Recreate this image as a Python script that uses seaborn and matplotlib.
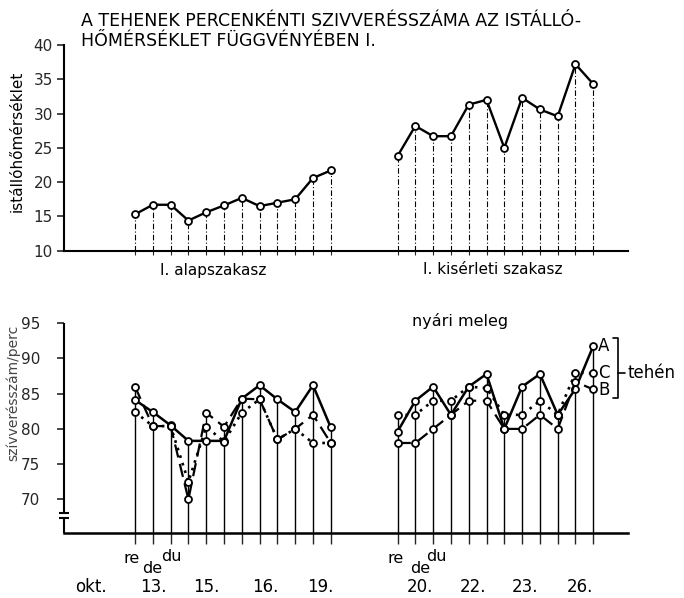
import matplotlib
matplotlib.use("Agg")
import matplotlib.pyplot as plt
import matplotlib.transforms as mtransforms
import seaborn as sns
import pandas as pd

# ---------------- data ----------------
# measurement slots: 4 days x (re, de, du) per period
x_left = [0, 1, 2, 3, 4, 5, 6, 7, 8, 9, 10, 11]
x_right = [14.75, 15.75, 16.75, 17.75, 18.75, 19.75, 20.75, 21.75, 22.75, 23.75, 24.75, 25.75]

# stable temperature (istállóhőmérséklet)
temp_left = [15.3, 16.7, 16.7, 14.4, 15.6, 16.6, 17.7, 16.5, 17.0, 17.5, 20.6, 21.7]
temp_right = [23.8, 28.2, 26.7, 26.7, 31.3, 32.0, 25.0, 32.3, 30.6, 29.6, 37.2, 34.3]

# heart rate per minute, cows A, B, C
A_left = [84.1, 82.4, 80.5, 78.3, 78.3, 78.3, 84.3, 86.2, 84.2, 82.4, 86.2, 80.2]
B_left = [86.0, 80.4, 80.4, 70.0, 82.3, 80.3, 84.3, 84.2, 78.5, 80.0, 82.0, 78.0]
C_left = [82.4, 80.4, 80.4, 72.5, 80.3, 78.2, 82.3, 84.2, 78.5, 80.0, 78.0, 78.0]
A_right = [79.6, 84.0, 86.0, 82.0, 86.0, 87.8, 80.0, 86.0, 87.8, 82.0, 85.7, 91.8]
B_right = [78.0, 78.0, 80.0, 82.0, 84.0, 84.0, 80.0, 80.0, 82.0, 80.0, 86.7, 85.6]
C_right = [82.0, 82.0, 84.0, 84.0, 86.0, 85.8, 82.0, 82.0, 84.0, 82.0, 88.0, 87.9]

temp_ticks = [10, 15, 20, 25, 30, 35, 40]
pulse_ticks = [70, 75, 80, 85, 90, 95]
slot_labels = ["re", "de", "du"]
day_labels = ["okt.", "13.", "15.", "16.", "19.", "20.", "22.", "23.", "26."]

title_lines = ["A TEHENEK PERCENKÉNTI SZIVVERÉSSZÁMA AZ ISTÁLLÓ-",
               "HŐMÉRSÉKLET FÜGGVÉNYÉBEN I."]

# ---------------- style ----------------
sns.set_style("white")
plt.rcParams["font.family"] = ["DejaVu Sans"]
plt.rcParams["text.color"] = "black"

W, H = 684, 598
fig = plt.figure(figsize=(W / 100, H / 100), dpi=100)


def fx(px):
    return px / W


def fy(py):
    return 1 - py / H


XL = (-3.99, 27.70)
ax1 = fig.add_axes([fx(64), fy(250.7), fx(628) - fx(64), (250.7 - 45) / H])
ax2 = fig.add_axes([fx(64), fy(533.3), fx(628) - fx(64), (533.3 - 323.3) / H])
for a in (ax1, ax2):
    a.set_facecolor("none")

x_all = x_left + x_right
temp_all = temp_left + temp_right

# ---------------- top panel ----------------
ax1.vlines(x_all, 10, temp_all, colors="black", linestyles=(0, (5, 2, 1, 2)),
           linewidth=0.8, zorder=1)
mk = dict(marker="o", markersize=5, markerfacecolor="white",
          markeredgecolor="black", markeredgewidth=1.3, color="black",
          estimator=None, sort=False, clip_on=False)
for xs, ys in [(x_left, temp_left), (x_right, temp_right)]:
    df = pd.DataFrame({"x": xs, "y": ys})
    sns.lineplot(data=df, x="x", y="y", ax=ax1, linewidth=1.7, zorder=3, **mk)

ax1.set_xlim(*XL)
ax1.set_ylim(10, 40)
ax1.set_yticks(temp_ticks)
ax1.set_xticks(x_all)
ax1.set_xticklabels([])
ax1.tick_params(axis="y", left=True, direction="out", length=5, width=1.2,
                labelsize=11, pad=3)
ax1.tick_params(axis="x", bottom=True, direction="out", length=3, width=0.8)
for s in ["top", "right"]:
    ax1.spines[s].set_visible(False)
for s in ["left", "bottom"]:
    ax1.spines[s].set_linewidth(1.5)
    ax1.spines[s].set_color("black")
ax1.set_xlabel("")
ax1.set_ylabel("")

# ---------------- bottom panel ----------------
A_all = A_left + A_right
B_all = B_left + B_right
C_all = C_left + C_right
tops = [max(a, b, c) for a, b, c in zip(A_all, B_all, C_all)]
ax2.vlines(x_all, 65.17, tops, colors="black", linewidth=1.0, zorder=1)

styles = {
    "A": dict(linestyle="-", linewidth=1.8),
    "B": dict(linestyle=(0, (6, 3)), linewidth=1.6),
    "C": dict(linestyle=(0, (1, 2)), linewidth=1.9),
}
for name, (L, R) in {"A": (A_left, A_right), "B": (B_left, B_right),
                     "C": (C_left, C_right)}.items():
    for xs, ys in [(x_left, L), (x_right, R)]:
        df = pd.DataFrame({"x": xs, "y": ys})
        sns.lineplot(data=df, x="x", y="y", ax=ax2, zorder=3, **styles[name], **mk)

ax2.set_xlim(*XL)
ax2.set_ylim(65.17, 95)
ax2.set_yticks(pulse_ticks)
ax2.set_xticks(x_all)
ax2.set_xticklabels([])
ax2.tick_params(axis="y", left=True, direction="out", length=5, width=1.2,
                labelsize=11, pad=12)
ax2.tick_params(axis="x", bottom=True, direction="out", length=8, width=1.0)
for s in ["top", "right", "left"]:
    ax2.spines[s].set_visible(False)
ax2.spines["bottom"].set_linewidth(1.8)
ax2.spines["bottom"].set_color("black")
ax2.set_xlabel("")
ax2.set_ylabel("")

# broken left spine
bt = mtransforms.blended_transform_factory(ax2.transAxes, ax2.transData)
lk = dict(color="black", linewidth=1.5, transform=bt, clip_on=False, solid_capstyle="butt")
ax2.plot([0, 0], [95, 68.0], **lk)
ax2.plot([-0.008, 0.008], [68.0, 68.0], **lk)
ax2.plot([-0.008, 0.008], [67.3, 67.3], **lk)
ax2.plot([0, 0], [67.3, 65.17], **lk)

# ---------------- annotations ----------------
ov = fig.add_axes([0, 0, 1, 1], zorder=10)
ov.set_xlim(0, W)
ov.set_ylim(H, 0)
ov.axis("off")
ov.patch.set_alpha(0)

ov.text(81, 26, title_lines[0], fontsize=12.5, ha="left", va="baseline")
ov.text(81, 46, title_lines[1], fontsize=12.5, ha="left", va="baseline")

ov.text(17, 141, "istállóhőmérséklet", fontsize=11, rotation=90, ha="center", va="center")
ov.text(13, 393, "szívverésszám/perc", fontsize=10, rotation=90, ha="center",
        va="center", color="#444444")

ov.text(213, 270, "I. alapszakasz", fontsize=11, ha="center", va="center")
ov.text(493, 270, "I. kisérleti szakasz", fontsize=11, ha="center", va="center")

ov.text(460, 321, "nyári meleg", fontsize=11.5, ha="center", va="center")

for lab, yy in zip(["A", "C", "B"], [346, 373, 390]):
    ov.text(604, yy, lab, fontsize=12, ha="center", va="center")
bk = dict(color="black", linewidth=1.2)
ov.plot([613, 618, 618, 613], [338, 338, 398, 398], **bk)
ov.plot([618, 625], [373, 373], **bk)
ov.text(628, 373, "tehén", fontsize=12, ha="left", va="center")

# re / de / du
for cx in [(132, 152, 171), (396, 420, 436)]:
    ov.text(cx[0], 563, slot_labels[0], fontsize=11.5, ha="center", va="baseline")
    ov.text(cx[1], 573, slot_labels[1], fontsize=11.5, ha="center", va="baseline")
    ov.text(cx[2], 561, slot_labels[2], fontsize=11.5, ha="center", va="baseline")

for lab, cx in zip(day_labels, [91, 153, 206, 265, 320, 420, 473, 525, 580]):
    ov.text(cx, 592, lab, fontsize=12, ha="center", va="baseline")

fig.savefig("out.png", dpi=100)
